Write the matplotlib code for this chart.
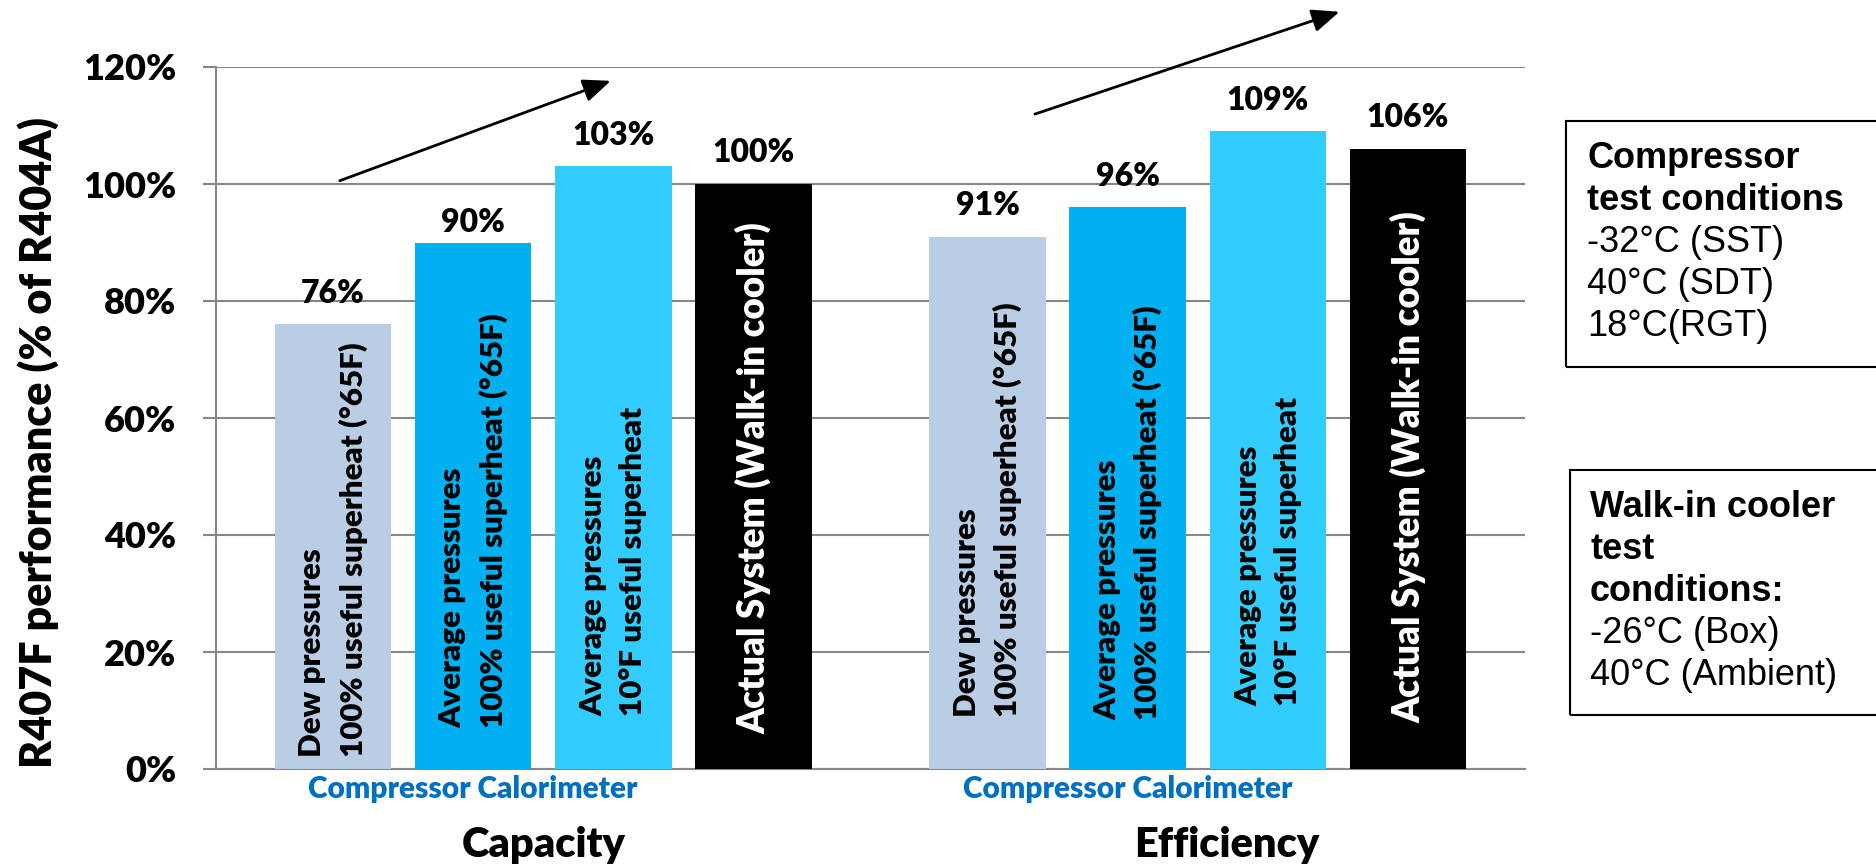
import numpy as np
import matplotlib
matplotlib.use("Agg")
import matplotlib.pyplot as plt
from matplotlib.patches import Rectangle
from matplotlib.transforms import blended_transform_factory

# === Datos ===
groups = ["Capacity", "Efficiency"]
bar_texts = [
    "Dew pressures\n100% useful superheat (°65F)",
    "Average pressures\n100% useful superheat (°65F)",
    "Average pressures\n10°F useful superheat",
    "Actual System (Walk-in cooler)",
]
capacity = [76, 90, 103, 100]
efficiency = [91, 96, 109, 106]
values = [capacity, efficiency]
yticks = [0, 20, 40, 60, 80, 100, 120]
sub_label = "Compressor Calorimeter"
ylabel = "R407F performance (% of R404A)"
box1_bold = ["Compressor", "test conditions"]
box1_reg = ["-32°C (SST)", "40°C (SDT)", "18°C(RGT)"]
box2_bold = ["Walk-in cooler", "test", "conditions:"]
box2_reg = ["-26°C (Box)", "40°C (Ambient)"]

# === Estilo ===
colors = ["#B9CDE5", "#00B0F0", "#33CCFF", "#000000"]
text_colors = ["black", "black", "black", "white"]
W, H = 1876, 865
step, width = 0.2142, 0.178
offsets = (np.arange(4) - 1.5) * step
# posición vertical (en %) donde empieza el texto de cada barra
text_start = [[2.0, 7.0, 9.0, 6.0], [8.9, 8.4, 10.8, 7.9]]
# separación de las etiquetas de valor (pt)
label_pad = [[15.5, 7.5, 15.5, 15.5], [15.5, 15.5, 15.5, 15.5]]
grid_c = "#878787"
LATO = "Lato"
ARIAL = "Liberation Sans"
HEAVY = "heavy"


def fx(px):
    return px / W


def fy(py):
    return 1 - py / H


fig = plt.figure(figsize=(W / 100, H / 100), dpi=100)
ax = fig.add_axes([fx(216), fy(769), fx(1525 - 216), (769 - 67) / H])

x = np.arange(len(groups))
for g in range(len(groups)):
    for i in range(4):
        xi = x[g] + offsets[i]
        v = values[g][i]
        ax.bar(xi, v, width=width, color=colors[i], zorder=3)
        ax.annotate(f"{v}%", (xi, v), xytext=(0, label_pad[g][i]),
                    textcoords="offset points", ha="center", va="baseline",
                    fontsize=23, fontweight=HEAVY, family=LATO, zorder=4)
        fs = 26.5 if i == 3 else 22.5
        ax.text(xi, text_start[g][i], bar_texts[i], rotation=90,
                ha="center", va="bottom", multialignment="left",
                linespacing=1.5, fontsize=fs, fontweight=HEAVY,
                family=LATO, color=text_colors[i], zorder=4)

ax.set_xlim(-0.5, 1.5)
ax.set_ylim(0, 120)
ax.set_yticks(yticks)
ax.set_yticklabels([f"{t}%" for t in yticks], fontsize=26,
                   fontweight=HEAVY, family=LATO)
ax.set_xticks([])
ax.grid(axis="y", color=grid_c, lw=1.5, zorder=0)
ax.tick_params(axis="y", direction="out", length=9.5, width=1.5,
               color=grid_c, pad=19)
for s in ["top", "right"]:
    ax.spines[s].set_visible(False)
for s in ["left", "bottom"]:
    ax.spines[s].set_color(grid_c)
    ax.spines[s].set_linewidth(1.5)

# === Flechas ===
arrows = [((0, 0.03, 100.4), (0, 2.0, 117.8)),
          ((1, 0.32, 111.8), (1, 2.53, 129.6))]
for (g0, s0, y0), (g1, s1, y1) in arrows:
    ax.annotate("", xy=(x[g1] + offsets[0] + s1 * step, y1),
                xytext=(x[g0] + offsets[0] + s0 * step, y0),
                arrowprops=dict(arrowstyle="-|>,head_length=0.6,head_width=0.25",
                                lw=2, color="black", mutation_scale=28),
                annotation_clip=False)

# === Etiquetas del eje x ===
tr = blended_transform_factory(ax.transData, fig.transFigure)
group_shift = [0.0, 0.045]
for g in range(len(groups)):
    ax.text(x[g] + offsets[:3].mean(), fy(798), sub_label, transform=tr,
            ha="center", va="baseline", fontsize=21.5, fontweight=HEAVY,
            family=LATO, color="#0070C0")
    ax.text(x[g] + group_shift[g], fy(857), groups[g], transform=tr,
            ha="center", va="baseline", fontsize=30, fontweight=HEAVY,
            family=LATO)

fig.text(fx(38), fy(442), ylabel, rotation=90, ha="center", va="center",
         fontsize=31, fontweight=HEAVY, family=LATO)

# === Cuadros de condiciones ===
boxes = [(1566, 121, 367, 1587, box1_bold, box1_reg),
         (1570, 470, 715, 1590, box2_bold, box2_reg)]
for bx, top, bot, tx, bold, reg in boxes:
    fig.add_artist(Rectangle((fx(bx), fy(bot)), fx(W + 40 - bx),
                             (bot - top) / H, transform=fig.transFigure,
                             fill=False, ec="black", lw=1.5))
    lines = [(t, "bold") for t in bold] + [(t, "normal") for t in reg]
    for k, (t, w) in enumerate(lines):
        fig.text(fx(tx), fy(top + 47 + 42 * k), t, ha="left", va="baseline",
                 fontsize=26, fontweight=w, family=ARIAL)

fig.savefig("out.png", dpi=100)
